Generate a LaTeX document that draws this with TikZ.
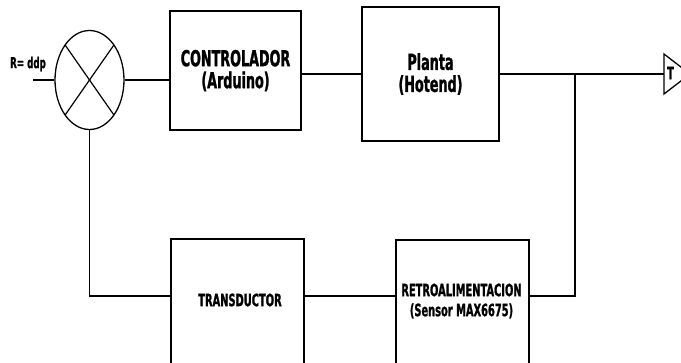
\documentclass[tikz,border=0pt]{standalone}
\usepackage{fontspec}
\newfontfamily\lblfont[FakeStretch=0.58,FakeBold=1.2]{DejaVu Sans Bold}
\usetikzlibrary{shapes.geometric,calc}
\tikzset{
  blk/.style={draw, line width=1.4pt, rectangle, inner sep=0pt},
  conn/.style={line width=1.2pt},
  bigtxt/.style={font=\lblfont\fontsize{22}{22}\selectfont, align=center, inner sep=0pt},
  smalltxt/.style={font=\lblfont\fontsize{17}{20}\selectfont, align=center, inner sep=0pt},
}
\begin{document}
\begin{tikzpicture}[x=1pt,y=-1pt]
\useasboundingbox (0,0) rectangle (681,362);
\clip (0,0) rectangle (681,362);
\fill[white] (0,0) rectangle (681,362);
% summing junction
\node[draw, ellipse, line width=1.3pt, minimum width=69pt, minimum height=99pt, inner sep=0pt] (sum) at (89.5,80) {};
\draw[conn] ($(sum.center)+(-24.4,-35)$) -- ($(sum.center)+(24.4,35)$);
\draw[conn] ($(sum.center)+(24.4,-35)$) -- ($(sum.center)+(-24.4,35)$);
% blocks
\node[blk, minimum width=131pt, minimum height=119pt, bigtxt] (ctrl) at (235.5,70.5) {CONTROLADOR\\(Arduino)};
\node[blk, minimum width=137pt, minimum height=134pt, bigtxt] (planta) at (430.5,74) {Planta\\(Hotend)};
\node[blk, minimum width=133pt, minimum height=133pt] (trans) at (237.5,305.5) {};
\node[blk, minimum width=133pt, minimum height=133pt] (retro) at (462.5,306.5) {};
\node[smalltxt] (transtxt) at (240,300) {TRANSDUCTOR};
\node[smalltxt] (retrotxt) at (461.5,301) {RETROALIMENTACION\\(Sensor MAX6675)};
% input label
\node[font=\lblfont\fontsize{15}{16}\selectfont, inner sep=0pt] (rlabel) at (28,64) {R= ddp};
\coordinate (in) at (33,80);
% output
\coordinate (out) at (664,74);
\coordinate (j) at (575,74);
\coordinate (fb) at (0,296);
\draw[line width=1.3pt] (664,54) -- (690,74) -- (664,94) -- cycle;
\node[font=\lblfont\fontsize{17}{17}\selectfont, inner sep=0pt] (ttxt) at (670.5,73) {T};
% connectors
\draw[conn] (in) -- (sum.west);
\draw[conn] (sum.east) -- (sum.east -| ctrl.west);
\draw[conn] (planta.west -| ctrl.east) -- (planta.west);
\draw[conn] (planta.east) -- (out);
\draw[conn] (j) |- (retro.east |- fb);
\draw[conn] (retro.west |- fb) -- (trans.east |- fb);
\draw[conn] (trans.west |- fb) -| (sum.south);
\end{tikzpicture}
\end{document}
